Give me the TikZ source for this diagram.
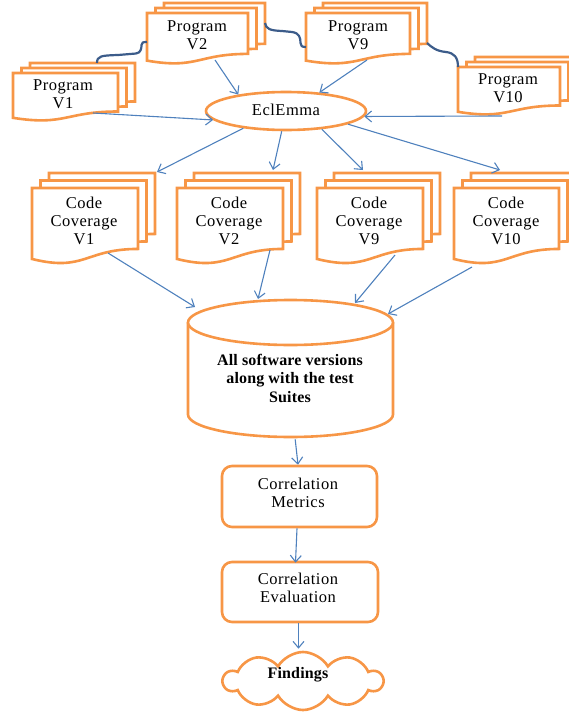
\documentclass[tikz,border=0pt]{standalone}
\usepackage{fontspec}
\setmainfont[LetterSpace=3,BoldFeatures={LetterSpace=1}]{Liberation Serif}
\usetikzlibrary{arrows.meta,shapes.symbols,shapes.geometric,calc}
\definecolor{orangeL}{RGB}{247,150,70}
\definecolor{blueA}{RGB}{79,129,189}
\definecolor{blueD}{RGB}{60,92,138}
\newcommand\docshape[4]{%
  \path[docline] ({#1},{#2}) -- ({#1+#3},{#2}) -- ({#1+#3},{#2+0.802*#4})
    .. controls ({#1+0.5*#3},{#2+0.802*#4}) and ({#1+0.5*#3},{#2+1.107*#4}) ..
    ({#1},{#2+0.934*#4}) -- cycle;}
\newcommand\multidoc[6]{%
  \docshape{#1+2*#5}{#2+2*#6}{#3}{#4}%
  \docshape{#1+#5}{#2+#6}{#3}{#4}%
  \docshape{#1}{#2}{#3}{#4}}
\begin{document}
\begin{tikzpicture}[x=1pt,y=-1pt,
  docline/.style={draw=orangeL, line width=2.6pt, fill=white, line join=miter},
  arr/.style={draw=blueA, line width=1.1pt, -{Straight Barb[length=6.5pt,width=11pt]}},
  conn/.style={draw=blueD, line width=2.2pt},
  lbl/.style={font=\fontsize{16.5}{18}\selectfont, align=center, inner sep=0},
  blbl/.style={font=\fontsize{16}{18.5}\selectfont\bfseries, align=center, inner sep=0},
  hold/.style={inner sep=0, draw=none, anchor=north west},
  orbox/.style={draw=orangeL, line width=2.6pt, fill=white, rounded corners=10pt, inner sep=0}]
\useasboundingbox (0,0) rectangle (568,715);

% ---- program documents
\multidoc{13}{73}{105}{48}{8.5}{-5}
\node[hold, minimum width=105, minimum height=48] (p1) at (13,73) {};
\node[lbl] (p1t) at (63,94) {Program\\V1};

\multidoc{147}{13}{101}{51}{8.5}{-5}
\node[hold, minimum width=101, minimum height=51] (p2) at (147,13) {};
\node[lbl] (p2t) at (197,35) {Program\\V2};

\multidoc{306}{13}{104}{51}{8.5}{-5}
\node[hold, minimum width=104, minimum height=51] (p9) at (306,13) {};
\node[lbl] (p9t) at (358,35) {Program\\V9};

\multidoc{458}{67}{102}{48}{8.5}{-5}
\node[hold, minimum width=102, minimum height=48] (p10) at (458,67) {};
\node[lbl] (p10t) at (508,88) {Program\\V10};

% ---- dark connectors between program documents
\draw[conn] ([shift={(84,-10)}]p1.north west) .. controls (97,56) and (101,55.5) .. (118,55)
  -- (136,53.5) .. controls (141,53) and (141.5,48) .. (141.5,45)
  .. controls (141.5,42.5) and (143,42) .. ([shift={(0,29)}]p2.north west);
\draw[conn] ([shift={(118,10)}]p2.north west) .. controls (266,29) and (270,30.5) .. (282,31)
  -- (292,32) .. controls (299.5,33) and (300.5,38) .. (300.5,43)
  .. controls (300.5,46) and (302,47) .. ([shift={(0,34)}]p9.north west);
\draw[conn] ([shift={(121,30)}]p9.north west) .. controls (432,47.5) and (436,51) .. (446,52)
  .. controls (454,53) and (458,57) .. (p10.north west);

% ---- EclEmma
\node[draw=orangeL, line width=2.6pt, fill=white, ellipse, minimum width=160, minimum height=38, inner sep=0] (ecl) at (286,111) {};
\node[lbl] (eclt) at (286,110) {EclEmma};

% ---- code coverage documents
\multidoc{32}{188}{106}{76}{8.5}{-7.5}
\node[hold, minimum width=106, minimum height=76] (c1) at (32,188) {};
\node[lbl] (c1t) at (84,221) {Code\\Coverage\\V1};

\multidoc{177}{188}{106}{76}{8.5}{-7.5}
\node[hold, minimum width=106, minimum height=76] (c2) at (177,188) {};
\node[lbl] (c2t) at (229,221) {Code\\Coverage\\V2};

\multidoc{317}{188}{106}{76}{8.5}{-7.5}
\node[hold, minimum width=106, minimum height=76] (c9) at (317,188) {};
\node[lbl] (c9t) at (369,221) {Code\\Coverage\\V9};

\multidoc{454}{188}{105}{76}{8.5}{-7.5}
\node[hold, minimum width=105, minimum height=76] (c10) at (454,188) {};
\node[lbl] (c10t) at (506,221) {Code\\Coverage\\V10};

% ---- database cylinder
\path[fill=white] (188,322.5) rectangle (393,414.5);
\path[fill=white] (290.5,414.5) ellipse [x radius=102.5, y radius=22.5];
\draw[draw=orangeL, line width=2.6pt] (188,322.5) -- (188,414.5)
  .. controls (188,426.9) and (233.9,437) .. (290.5,437)
  .. controls (347.1,437) and (393,426.9) .. (393,414.5) -- (393,322.5);
\draw[draw=orangeL, line width=2.6pt, fill=white] (290.5,322.5) ellipse [x radius=102.5, y radius=22.5];
\node[hold, minimum width=205, minimum height=137] (db) at (188,300) {};
\node[blbl] (dbt) at (290,378) {All software versions\\along with the test\\Suites};

% ---- correlation boxes
\node[orbox, minimum width=155, minimum height=61] (cm) at (299.5,496.5) {};
\node[lbl] (cmt) at (298,493) {Correlation\\Metrics};
\node[orbox, minimum width=156, minimum height=60] (ce) at (300,592) {};
\node[lbl] (cet) at (298,588) {Correlation\\Evaluation};

% ---- findings cloud
\node[cloud, draw=orangeL, line width=2.6pt, fill=white, cloud puffs=10, cloud puff arc=120, minimum width=159, minimum height=58, inner sep=0] (fd) at (303,681) {};
\node[blbl] (fdt) at (298,675) {Findings};

% ---- arrows into EclEmma
\draw[arr] ([shift={(80,40)}]p1.north west) -- (ecl.187.5);
\draw[arr] ([shift={(68,47)}]p2.north west) -- (ecl.161);
\draw[arr] ([shift={(61,47)}]p9.north west) -- (ecl.29);
\draw[arr] ([shift={(44,49)}]p10.north west) -- (ecl.356.3);

% ---- arrows from EclEmma to coverage
\draw[arr] (ecl.202.5) -- ([shift={(125,-16)}]c1.north west);
\draw[arr] (ecl.258) -- ([shift={(96,-18)}]c2.north west);
\draw[arr] (ecl.333) -- ([shift={(46,-18)}]c9.north west);
\draw[arr] (ecl.348) -- ([shift={(46,-18)}]c10.north west);

% ---- arrows from coverage to database
\draw[arr] ([shift={(76,65)}]c1.north west) -- ([shift={(7,7)}]db.north west);
\draw[arr] ([shift={(93,62)}]c2.north west) -- ([shift={(70,-1)}]db.north west);
\draw[arr] ([shift={(78,67)}]c9.north west) -- ([shift={(167,3)}]db.north west);
\draw[arr] ([shift={(18,79)}]c10.north west) -- ([shift={(200,14)}]db.north west);

% ---- vertical flow
\draw[arr] ([shift={(4.5,2)}]db.south) -- ([xshift=-1.5pt]cm.north);
\draw[arr] ([xshift=-2.5pt]cm.south) -- ([xshift=-4.5pt,yshift=-2pt]ce.north);
\draw[arr] ([xshift=-1.5pt]ce.south) -- ([shift={(-4.5,-2)}]fd.north);
\end{tikzpicture}
\end{document}
